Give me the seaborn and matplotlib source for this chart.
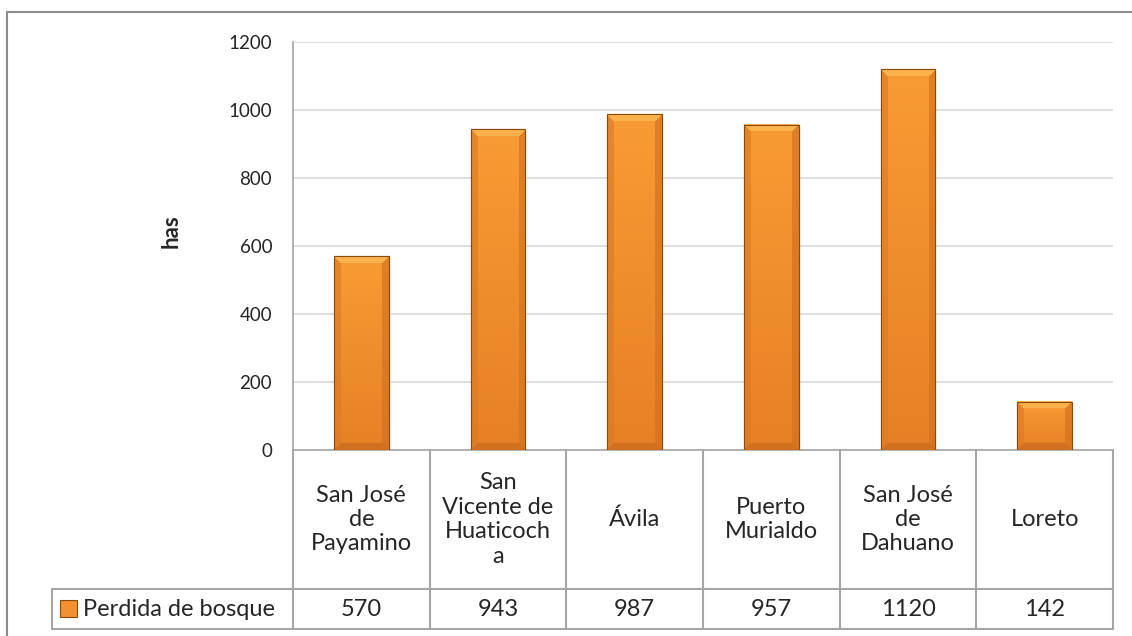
import numpy as np
import pandas as pd
import matplotlib
matplotlib.use('Agg')
import matplotlib.pyplot as plt
import matplotlib.transforms as mtransforms
from matplotlib.colors import to_rgb
from matplotlib.patches import Rectangle
import seaborn as sns

sns.set_style("white")
plt.rcParams['font.family'] = ['Lato', 'DejaVu Sans']

parroquias = ['San José\nde\nPayamino', 'San\nVicente de\nHuaticoch\na', 'Ávila',
              'Puerto\nMurialdo', 'San José\nde\nDahuano', 'Loreto']
perdida = [570, 943, 987, 957, 1120, 142]
serie = 'Perdida de bosque'
yticks = [0, 200, 400, 600, 800, 1000, 1200]

df = pd.DataFrame({'parroquia': parroquias, 'has': perdida})

W, H = 1132, 636
L, R, B, T = 293, 1113, 450, 42
fig = plt.figure(figsize=(W / 100, H / 100), dpi=100)
ax = fig.add_axes([L / W, 1 - B / H, (R - L) / W, (B - T) / H])

sns.barplot(data=df, x='parroquia', y='has', color='#F7962E', width=0.4,
            edgecolor='#8A4A10', linewidth=0.8, saturation=1, ax=ax, zorder=3)


def bevel_image(wpx, hpx, bev=7):
    top_c, bot_c = np.array(to_rgb('#F99B34')), np.array(to_rgb('#E68026'))
    t = np.linspace(0, 1, hpx)[:, None, None]
    img = top_c * (1 - t) + bot_c * t
    img = np.broadcast_to(img, (hpx, wpx, 3)).copy()
    yy, xx = np.mgrid[0:hpx, 0:wpx]
    d = np.stack([yy, hpx - 1 - yy, xx, wpx - 1 - xx])
    side = d.argmin(axis=0)
    near = d.min(axis=0) < bev
    shades = [to_rgb('#FCC05A'), to_rgb('#C9681C'), to_rgb('#DD7A22'), to_rgb('#D2701E')]
    for k, c in enumerate(shades):
        m = near & (side == k)
        img[m] = 0.35 * img[m] + 0.65 * np.array(c)
    return img


px_per_unit = (B - T) / 1200
px_per_cat = (R - L) / len(parroquias)
for p in ax.patches:
    x0, w, h = p.get_x(), p.get_width(), p.get_height()
    img = bevel_image(max(int(round(w * px_per_cat)), 2), max(int(round(h * px_per_unit)), 2))
    ax.imshow(img, aspect='auto', extent=(x0, x0 + w, 0, h), zorder=3.5,
              interpolation='bilinear')
    ax.add_patch(Rectangle((x0, 0), w, h, fill=False, edgecolor='#8A4A10',
                           linewidth=0.8, zorder=3.7))

ax.set_xlim(-0.5, len(parroquias) - 0.5)
ax.set_ylim(0, 1200)
ax.set_yticks(yticks)
ax.set_yticklabels([str(v) for v in yticks], fontsize=13.5)
ax.set_xticks([])
ax.set_xlabel('')
ax.set_ylabel('')
ax.tick_params(axis='y', length=0, pad=15)
ax.grid(axis='y', color='#D9D9D9', linewidth=1.2, zorder=0)
for s in ['top', 'right']:
    ax.spines[s].set_visible(False)
ax.spines['left'].set_color('#A6A6A6')
ax.spines['bottom'].set_color('#A6A6A6')
ax.spines['left'].set_linewidth(1.2)
ax.spines['bottom'].set_linewidth(1.2)

fig.text(171 / W, 1 - 231 / H, 'has', rotation=90, ha='center', va='center',
         fontsize=16, fontweight='bold')

# data table below the axis
tr = mtransforms.blended_transform_factory(ax.transData, ax.transAxes)
y_head = -(589 - B) / (B - T)
y_val = -(629 - B) / (B - T)
lc = '#A6A6A6'
n = len(parroquias)
for i in range(n + 1):
    ax.plot([i - 0.5, i - 0.5], [0, y_val], transform=tr, color=lc, lw=1.5, clip_on=False)
ax.plot([-0.5, n - 0.5], [y_head, y_head], transform=tr, color=lc, lw=1.5, clip_on=False)
ax.plot([-0.5, n - 0.5], [y_val, y_val], transform=tr, color=lc, lw=1.5, clip_on=False)
for i, (lab, v) in enumerate(zip(parroquias, perdida)):
    ax.text(i, y_head / 2, lab, transform=tr, ha='center', va='center',
            fontsize=17, linespacing=1.2)
    ax.text(i, (y_head + y_val) / 2, str(v), transform=tr, ha='center', va='center',
            fontsize=17)

# legend cell
fx0, fy0, fy1 = 52 / W, 1 - 629 / H, 1 - 589 / H
fx1 = L / W
fig.add_artist(plt.Line2D([fx0, fx1], [fy1, fy1], color=lc, lw=1.5))
fig.add_artist(plt.Line2D([fx0, fx1], [fy0, fy0], color=lc, lw=1.5))
fig.add_artist(plt.Line2D([fx0, fx0], [fy0, fy1], color=lc, lw=1.5))
fig.add_artist(Rectangle((60 / W, 1 - 617 / H), 17 / W, 17 / H,
                         facecolor='#F39030', edgecolor='#8A4A10', lw=0.8))
fig.text(83 / W, (fy0 + fy1) / 2, serie, ha='left', va='center', fontsize=17)

# outer chart border (top and left visible)
fig.add_artist(plt.Line2D([7 / W, 1], [1 - 12 / H, 1 - 12 / H], color='#8C8C8C', lw=1.5))
fig.add_artist(plt.Line2D([7 / W, 7 / W], [0, 1 - 12 / H], color='#8C8C8C', lw=1.5))

fig.savefig('out.png', dpi=100)
